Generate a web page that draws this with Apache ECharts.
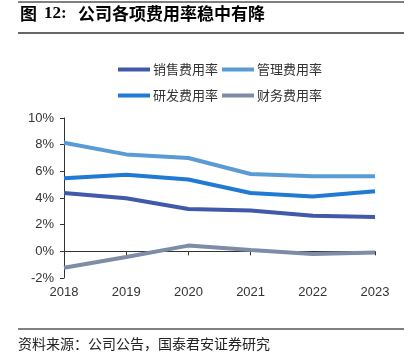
<!DOCTYPE html>
<html><head><meta charset="utf-8">
<script src="https://cdn.jsdelivr.net/npm/echarts@6/dist/echarts.min.js"></script>
<style>html,body{margin:0;padding:0;background:#fff}#c{width:411px;height:362px}</style>
</head><body><div id="c"></div>
<script>
var years = ['2018','2019','2020','2021','2022','2023'];
var sales = [4.38, 3.98, 3.18, 3.06, 2.66, 2.58];
var admin = [8.14, 7.27, 7.0, 5.8, 5.64, 5.63];
var rnd = [5.49, 5.74, 5.39, 4.38, 4.11, 4.51];
var fin = [-1.23, -0.43, 0.43, 0.1, -0.2, -0.08];
var yTicks = [-2, 0, 2, 4, 6, 8, 10];

var chart = echarts.init(document.getElementById('c'));
var txt = {fontFamily: 'Liberation Sans, Arial, sans-serif', fontSize: 13, color: '#333'};
function ser(name, data, color) {
  return {name: name, type: 'line', data: data, symbol: 'none', smooth: false, xAxisIndex: 0,
    lineStyle: {width: 4, color: color}, itemStyle: {color: color}};
}
chart.setOption({
  animation: false,
  grid: {left: 64, right: 36, top: 118, bottom: 84},
  legend: [
    {data: ['销售费用率', '管理费用率'], left: 113, top: 58, itemWidth: 32, itemHeight: 4, itemGap: 4,
     icon: 'rect', textStyle: {fontFamily: 'Noto Sans CJK SC', fontSize: 13, color: '#333', padding: [0,0,0,-2]}},
    {data: ['研发费用率', '财务费用率'], left: 113, top: 84, itemWidth: 32, itemHeight: 4, itemGap: 4,
     icon: 'rect', textStyle: {fontFamily: 'Noto Sans CJK SC', fontSize: 13, color: '#333', padding: [0,0,0,-2]}}
  ],
  xAxis: [
    {type: 'category', data: years, boundaryGap: false, position: 'bottom',
     axisLine: {show: false, onZero: false}, axisTick: {show: false},
     axisLabel: Object.assign({margin: 8}, txt)},
    {type: 'category', data: years, boundaryGap: false, position: 'bottom',
     axisLine: {show: true, onZero: true, lineStyle: {color: '#333', width: 1}},
     axisTick: {show: true, length: 4, lineStyle: {color: '#333'}}, axisLabel: {show: false}}
  ],
  yAxis: {type: 'value', min: -2, max: 10, interval: 2,
    axisLine: {show: true, lineStyle: {color: '#333'}},
    axisTick: {show: true, length: 4, lineStyle: {color: '#333'}},
    splitLine: {show: false},
    axisLabel: Object.assign({margin: 10, formatter: function(v){return yTicks.indexOf(v) >= 0 ? v + '%' : '';}}, txt)},
  series: [
    ser('销售费用率', sales, '#4059A8'),
    ser('管理费用率', admin, '#5B9BD5'),
    ser('研发费用率', rnd, '#2079D3'),
    ser('财务费用率', fin, '#7E8CA8')
  ],
  graphic: [
    {type: 'line', shape: {x1: 18, y1: 2, x2: 404, y2: 2}, style: {stroke: '#000', lineWidth: 1}},
    {type: 'text', left: 20, top: 5, style: {text: '图', font: 'bold 17px "Noto Sans CJK SC"', fill: '#000'}},
    {type: 'text', left: 44, top: 5, style: {text: '12:', font: 'bold 17px "Liberation Serif"', fill: '#000'}},
    {type: 'text', left: 78, top: 5, style: {text: '公司各项费用率稳中有降', font: 'bold 17px "Noto Sans CJK SC"', fill: '#000'}},
    {type: 'line', shape: {x1: 18, y1: 33, x2: 404, y2: 33}, style: {stroke: '#666', lineWidth: 2}},
    {type: 'line', shape: {x1: 18, y1: 329, x2: 404, y2: 329}, style: {stroke: '#000', lineWidth: 1}},
    {type: 'text', left: 18, top: 337, style: {text: '资料来源：公司公告，国泰君安证券研究', font: '14px "Noto Sans CJK SC"', fill: '#222'}}
  ]
});
</script></body></html>
